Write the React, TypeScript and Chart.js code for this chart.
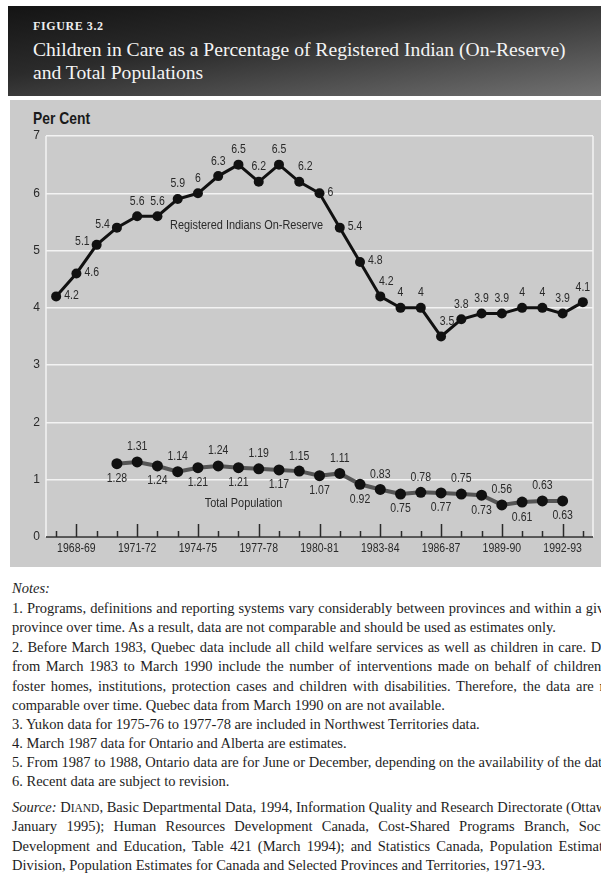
import React, { useEffect, useRef } from 'react';
import { Chart, registerables } from 'chart.js';

Chart.register(...registerables);

// ---------- DATA ----------
const years = [
  '1967-68', '1968-69', '1969-70', '1970-71', '1971-72', '1972-73', '1973-74', '1974-75', '1975-76',
  '1976-77', '1977-78', '1978-79', '1979-80', '1980-81', '1981-82', '1982-83', '1983-84', '1984-85',
  '1985-86', '1986-87', '1987-88', '1988-89', '1989-90', '1990-91', '1991-92', '1992-93', '1993-94',
];

const labeledYears = ['1968-69', '1971-72', '1974-75', '1977-78', '1980-81', '1983-84', '1986-87', '1989-90', '1992-93'];

const registeredIndians = [
  4.2, 4.6, 5.1, 5.4, 5.6, 5.6, 5.9, 6, 6.3, 6.5, 6.2, 6.5, 6.2, 6, 5.4, 4.8, 4.2, 4, 4, 3.5, 3.8, 3.9, 3.9, 4, 4, 3.9, 4.1,
];

const totalPopulation = [
  null, null, null, 1.28, 1.31, 1.24, 1.14, 1.21, 1.24, 1.21, 1.19, 1.17, 1.15, 1.07, 1.11, 0.92, 0.83, 0.75, 0.78,
  0.77, 0.75, 0.73, 0.56, 0.61, 0.63, 0.63, null,
];

const yTicks = [0, 1, 2, 3, 4, 5, 6, 7];

const seriesNames = ['Registered Indians On-Reserve', 'Total Population'];

// label placement codes (a = above, b = below, r = right, l = left, ar = above-right)
const registeredLabelPlacement = [
  'r', 'r', 'l', 'l', 'a', 'a', 'a', 'a', 'a', 'a', 'a', 'a', 'ar', 'r', 'r', 'r', 'ar', 'a', 'a', 'ar', 'a', 'a', 'a', 'a', 'a', 'a', 'a',
];
const totalLabelPlacement = [
  '', '', '', 'b', 'a', 'b', 'a', 'b', 'a', 'b', 'a', 'b', 'a', 'b', 'a', 'b', 'a', 'b', 'a', 'b', 'a', 'b', 'a', 'b', 'a', 'b', '',
];

const SANS = "'Liberation Sans Narrow', 'Arial Narrow', 'Liberation Sans', Arial, sans-serif";
const SERIF = "'Liberation Serif', 'Times New Roman', serif";
const TEXT = '#2a2a2a';
const NARROW = 0.84;

function narrowText(ctx: CanvasRenderingContext2D, txt: string, x: number, y: number, align: CanvasTextAlign) {
  ctx.save();
  ctx.translate(x, y);
  ctx.scale(NARROW, 1);
  ctx.textAlign = align;
  ctx.fillText(txt, 0, 0);
  ctx.restore();
}

const axisPlugin = {
  id: 'customAxis',
  beforeDatasetsDraw(chart: any) {
    const { ctx, chartArea, scales } = chart;
    const { left, right, top, bottom } = chartArea;
    const x = scales.x;
    ctx.save();
    ctx.strokeStyle = '#f3f3f3';
    ctx.lineWidth = 1.5;
    ctx.beginPath();
    ctx.moveTo(left, top);
    ctx.lineTo(left, bottom);
    ctx.moveTo(right, top);
    ctx.lineTo(right, bottom);
    ctx.stroke();

    ctx.strokeStyle = '#2a2a2a';
    ctx.lineWidth = 1.5;
    ctx.beginPath();
    ctx.moveTo(left, bottom);
    ctx.lineTo(right, bottom);
    years.forEach((yr, i) => {
      const px = Math.round(x.getPixelForValue(i)) + 0.5;
      const major = labeledYears.includes(yr);
      ctx.moveTo(px, bottom);
      ctx.lineTo(px, bottom - (major ? 13 : 6));
    });
    ctx.stroke();

    // x tick labels
    ctx.fillStyle = TEXT;
    ctx.font = `12.5px ${SANS}`;
    ctx.textBaseline = 'middle';
    years.forEach((yr, i) => {
      if (!labeledYears.includes(yr)) return;
      narrowText(ctx, yr, x.getPixelForValue(i), bottom + 12, 'center');
    });
    ctx.restore();
  },
};

const labelPlugin = {
  id: 'valueLabels',
  afterDatasetsDraw(chart: any) {
    const { ctx, scales } = chart;
    ctx.save();
    ctx.fillStyle = TEXT;
    ctx.font = `12.5px ${SANS}`;
    ctx.textBaseline = 'middle';
    const placements = [registeredLabelPlacement, totalLabelPlacement];
    const sets = [registeredIndians, totalPopulation];
    sets.forEach((data, di) => {
      const meta = chart.getDatasetMeta(di);
      meta.data.forEach((pt: any, i: number) => {
        const v = data[i];
        if (v === null || v === undefined) return;
        const p = placements[di][i];
        const txt = String(v);
        let tx = pt.x;
        let ty = pt.y;
        let align: CanvasTextAlign = 'center';
        if (p === 'a') {
          ty = pt.y - 15;
        } else if (p === 'b') {
          ty = pt.y + 15;
        } else if (p === 'r') {
          align = 'left';
          tx = pt.x + 8;
          ty = pt.y - 1;
        } else if (p === 'l') {
          align = 'right';
          tx = pt.x - 7;
          ty = pt.y - 3;
        } else if (p === 'ar') {
          tx = pt.x + 6;
          ty = pt.y - 15;
        }
        narrowText(ctx, txt, tx, ty, align);
      });
    });

    // series names
    ctx.font = `13px ${SANS}`;
    const x = scales.x;
    const y = scales.y;
    narrowText(ctx, seriesNames[0], x.getPixelForValue(9.4), y.getPixelForValue(5.44), 'center');
    narrowText(ctx, seriesNames[1], x.getPixelForValue(9.25), y.getPixelForValue(0.59), 'center');
    ctx.restore();
  },
};

export default function App() {
  const ref = useRef<HTMLCanvasElement>(null);

  useEffect(() => {
    const chart = new Chart(ref.current as HTMLCanvasElement, {
      type: 'line',
      data: {
        labels: years,
        datasets: [
          {
            label: seriesNames[0],
            data: registeredIndians,
            borderColor: '#111111',
            backgroundColor: '#111111',
            borderWidth: 3,
            pointRadius: 5,
            pointBackgroundColor: '#111111',
            pointBorderWidth: 0,
            tension: 0,
          },
          {
            label: seriesNames[1],
            data: totalPopulation as any,
            borderColor: '#555555',
            backgroundColor: '#111111',
            borderWidth: 4,
            pointRadius: 5.5,
            pointBackgroundColor: '#111111',
            pointBorderWidth: 0,
            tension: 0,
            spanGaps: false,
          },
        ],
      },
      options: {
        responsive: false,
        animation: false,
        devicePixelRatio: 1,
        layout: { padding: { left: 10, right: 8, top: 36, bottom: 0 } },
        plugins: {
          legend: { display: false },
          tooltip: { enabled: false },
        },
        scales: {
          x: {
            type: 'category',
            offset: true,
            grid: { display: false, drawTicks: false },
            border: { display: false },
            afterFit: (s: any) => {
              s.height = 30;
            },
            ticks: { display: false, autoSkip: false },
          },
          y: {
            min: yTicks[0],
            max: yTicks[yTicks.length - 1],
            afterFit: (s: any) => {
              s.width = 36;
            },
            afterBuildTicks: (s: any) => {
              s.ticks = yTicks.map((v) => ({ value: v }));
            },
            grid: { color: '#f3f3f3', lineWidth: 1.5, drawTicks: false },
            border: { display: false },
            ticks: {
              padding: 6,
              color: TEXT,
              font: { family: SANS, size: 12 },
            },
          },
        },
      },
      plugins: [axisPlugin, labelPlugin],
    });
    return () => chart.destroy();
  }, []);

  const noteLine = (top: number, content: React.ReactNode, extra: React.CSSProperties = {}) => (
    <div
      style={{
        position: 'absolute',
        left: 12,
        top,
        whiteSpace: 'nowrap',
        fontFamily: SERIF,
        fontSize: 14.5,
        lineHeight: '19px',
        color: '#1e1e1e',
        ...extra,
      }}
    >
      {content}
    </div>
  );

  const justified: React.CSSProperties = { width: 603, textAlign: 'justify', textAlignLast: 'justify' as any };
  const justifiedNote: React.CSSProperties = { width: 606, textAlign: 'justify', textAlignLast: 'justify' as any };

  return (
    <div style={{ position: 'absolute', left: 0, top: 0, width: 601, height: 881, overflow: 'hidden', background: '#ffffff' }}>
      {/* header */}
      <div
        style={{
          position: 'absolute',
          left: 8,
          top: 6,
          width: 593,
          height: 90,
          background: 'linear-gradient(172deg, #141414 0%, #2b2b2b 40%, #727272 100%)',
        }}
      />
      <div
        style={{
          position: 'absolute',
          left: 33,
          top: 18,
          fontFamily: SERIF,
          fontWeight: 'bold',
          fontSize: 12,
          letterSpacing: 0.6,
          color: '#eeeeee',
          lineHeight: '16px',
        }}
      >
        FIGURE 3.2
      </div>
      <div
        style={{
          position: 'absolute',
          left: 33,
          top: 38,
          fontFamily: SERIF,
          fontSize: 19.6,
          color: '#f4f4f4',
          lineHeight: '23px',
          whiteSpace: 'nowrap',
        }}
      >
        Children in Care as a Percentage of Registered Indian (On-Reserve)
        <br />
        and Total Populations
      </div>

      {/* chart panel */}
      <div style={{ position: 'absolute', left: 10, top: 100, width: 591, height: 467, background: '#cbcbcb' }} />
      <div
        style={{
          position: 'absolute',
          left: 33,
          top: 108,
          fontFamily: SANS,
          fontWeight: 'bold',
          fontSize: 16.5,
          color: '#1a1a1a',
          lineHeight: '20px',
          whiteSpace: 'nowrap',
          transform: `scaleX(${NARROW})`,
          transformOrigin: 'left center',
        }}
      >
        Per Cent
      </div>
      <canvas
        ref={ref}
        width={601}
        height={467}
        style={{ position: 'absolute', left: 0, top: 100, width: 601, height: 467 }}
      />

      {/* notes */}
      {noteLine(579, 'Notes:', { fontStyle: 'italic' })}
      {noteLine(599, '1. Programs, definitions and reporting systems vary considerably between provinces and within a given', justifiedNote)}
      {noteLine(618, 'province over time. As a result, data are not comparable and should be used as estimates only.')}
      {noteLine(638, '2. Before March 1983, Quebec data include all child welfare services as well as children in care. Data', justifiedNote)}
      {noteLine(657, 'from March 1983 to March 1990 include the number of interventions made on behalf of children in', justifiedNote)}
      {noteLine(677, 'foster homes, institutions, protection cases and children with disabilities. Therefore, the data are not', justifiedNote)}
      {noteLine(696, 'comparable over time. Quebec data from March 1990 on are not available.')}
      {noteLine(715, '3. Yukon data for 1975-76 to 1977-78 are included in Northwest Territories data.')}
      {noteLine(734, '4. March 1987 data for Ontario and Alberta are estimates.')}
      {noteLine(753, '5. From 1987 to 1988, Ontario data are for June or December, depending on the availability of the data.')}
      {noteLine(772, '6. Recent data are subject to revision.')}
      {noteLine(
        798,
        <span>
          <i>Source:</i> D<span style={{ fontSize: 11.5 }}>IAND</span>, Basic Departmental Data, 1994, Information Quality and
          Research Directorate (Ottawa,
        </span>,
        justified,
      )}
      {noteLine(817, 'January 1995); Human Resources Development Canada, Cost-Shared Programs Branch, Social', justified)}
      {noteLine(837, 'Development and Education, Table 421 (March 1994); and Statistics Canada, Population Estimates', justified)}
      {noteLine(856, 'Division, Population Estimates for Canada and Selected Provinces and Territories, 1971-93.')}
    </div>
  );
}
